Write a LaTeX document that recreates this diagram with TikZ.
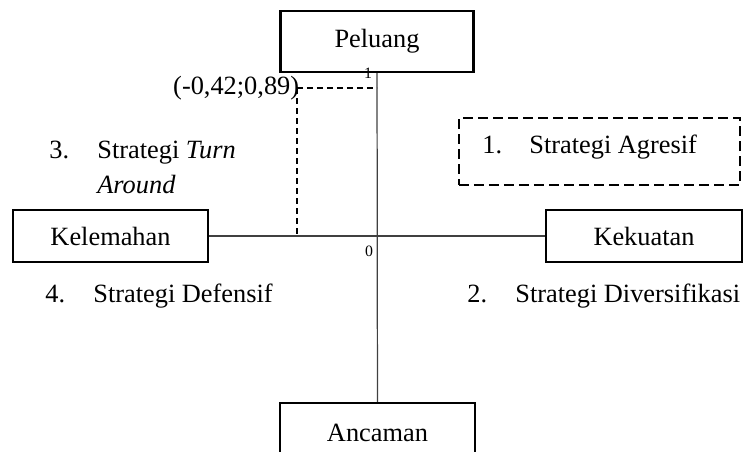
\documentclass[tikz,border=0pt]{standalone}
\usepackage{fontspec}
\setmainfont{Liberation Serif}
\usetikzlibrary{calc}
\usetikzlibrary{positioning}
\newcommand\boxwd{1.2pt}
\newcommand\axiswd{.7pt}
\newcommand\textsz{\fontsize{15}{18}\selectfont}
\tikzstyle{factor}  = [draw, rectangle, line width=\boxwd, minimum width=3.9cm, minimum height=1.05cm, inner sep=2pt]
\tikzstyle{axis}    = [line width=\axiswd, color=black!75]
\tikzstyle{guide}   = [line width=1.1pt, dash pattern=on 0.12cm off 0.08cm]
\tikzstyle{quadbox} = [draw, rectangle, line width=1.1pt, dash pattern=on 0.2cm off 0.1cm, minimum width=5.62cm, minimum height=1.34cm]
\tikzstyle{item}    = [anchor=base west, inner sep=0pt]
\tikzstyle{tick}    = [font=\fontsize{9}{10}\selectfont, inner sep=0pt]

\begin{document}
\begin{tikzpicture}
  \useasboundingbox (-7.54,-4.3) rectangle (7.32,4.72);
  \tikzstyle{every node}=[font=\textsz]
  % factors
  \draw (0,3.89) node[factor, minimum width=3.86cm, minimum height=1.22cm] (peluang) {Peluang};
  \draw (5.34,0) node[factor, minimum width=3.92cm] (kekuatan) {Kekuatan};
  \draw (-5.33,0) node[factor] (kelemahan) {Kelemahan};
  \draw (0.01,-3.94) node[factor, minimum height=1.2cm] (ancaman) {Ancaman};
  % axes
  \draw (peluang) -- (ancaman) [axis];
  \draw (kelemahan) -- (kekuatan) [axis];
  \draw (-0.18,3.26) node[tick] (one) {1};
  \draw (-0.16,-0.3) node[tick] (zero) {0};
  % position point
  \coordinate (pos) at (-1.6,2.96);
  \draw (-1.55,2.96) node[anchor=east, inner sep=0pt] (poslabel) {(-0,42;0,89)};
  \draw (pos) -- (pos -| peluang.south) [guide];
  \draw (pos) -- (pos |- kelemahan.east) [guide];
  % quadrants
  \draw (4.45,1.69) node[quadbox] (agresif) {};
  \draw (2.1,1.66) node[item] (n1) {1.};
  \draw (3.04,1.66) node[item] (s1) {Strategi Agresif};
  \draw (-6.56,1.56) node[item] (n3) {3.};
  \draw (-5.6,1.56) node[item] (s3) {Strategi \textit{Turn}};
  \draw (-5.6,0.86) node[item] (s3b) {\textit{Around}};
  \draw (-6.64,-1.32) node[item] (n4) {4.};
  \draw (-5.68,-1.32) node[item] (s4) {Strategi Defensif};
  \draw (1.8,-1.32) node[item] (n2) {2.};
  \draw (2.76,-1.32) node[item] (s2) {Strategi Diversifikasi};
\end{tikzpicture}
\end{document}
